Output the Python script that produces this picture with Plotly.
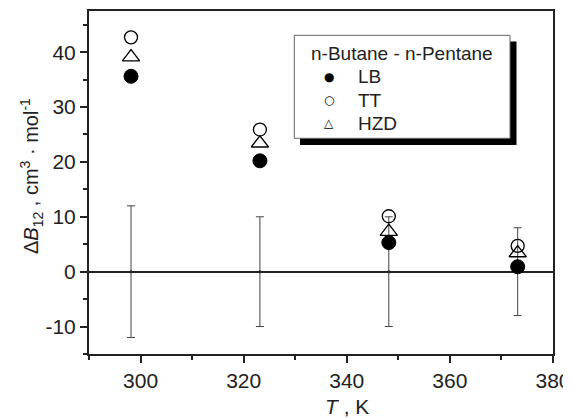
import plotly.graph_objects as go

T = [298.15, 323.15, 348.15, 373.15]
LB = [35.6, 20.2, 5.3, 0.9]
TT = [42.7, 25.9, 10.1, 4.7]
HZD = [39.1, 23.4, 7.3, 3.4]
err_center = [0, 0, 0, 0]
err = [12, 10, 10, 8]
legend_title = "n-Butane - n-Pentane"
legend_names = ["LB", "TT", "HZD"]
legend_glyphs = ["●", "○", "△"]

FONT = "Liberation Sans, Arial, sans-serif"
OFF = 8  # page body margin
L, R, TOP, BOT = 89, 553, 11, 354
PW, PH = R - L, BOT - TOP
W, H = 571 - OFF, 418 - OFF


def px(x):
    return (x - L) / PW


def py(y):
    return (BOT - y) / PH


fig = go.Figure()

fig.add_trace(go.Scatter(
    x=T, y=err_center, mode="markers",
    marker=dict(size=3, color="#222"),
    error_y=dict(type="data", array=err, visible=True, color="#444", thickness=1, width=4),
    showlegend=False, hoverinfo="skip"))

fig.add_trace(go.Scatter(x=T, y=LB, mode="markers", showlegend=False, name="LB",
    marker=dict(symbol="circle", size=14, color="black", line=dict(color="black", width=1))))
fig.add_trace(go.Scatter(x=T, y=TT, mode="markers", showlegend=False, name="TT",
    marker=dict(symbol="circle-open", size=13, color="black", line=dict(color="black", width=1.3))))
fig.add_trace(go.Scatter(x=T, y=HZD, mode="markers", showlegend=False, name="HZD",
    marker=dict(symbol="triangle-up-open", size=15, color="black", line=dict(color="black", width=1.3))))

# legend box with shadow
fig.add_shape(type="rect", xref="paper", yref="paper",
    x0=px(300), x1=px(516.5), y0=py(145), y1=py(41.5),
    fillcolor="black", line=dict(width=0))
fig.add_shape(type="rect", xref="paper", yref="paper",
    x0=px(294.3), x1=px(510), y0=py(138.3), y1=py(35.3),
    fillcolor="white", line=dict(color="#666", width=1))

ann = []
ann.append(dict(text=legend_title, x=px(402), y=py(53.5), xref="paper", yref="paper",
                showarrow=False, xanchor="center", yanchor="middle",
                font=dict(size=19, family=FONT, color="#222")))
rows = [76.7, 100.3, 123.5]
gsize = [12, 12, 12]
for name, g, yy, gs in zip(legend_names, legend_glyphs, rows, gsize):
    ann.append(dict(text=g, x=px(328.5), y=py(yy), xref="paper", yref="paper",
                    showarrow=False, xanchor="center", yanchor="middle",
                    font=dict(size=gs, family="DejaVu Sans", color="black")))
    ann.append(dict(text=name, x=px(356), y=py(yy), xref="paper", yref="paper",
                    showarrow=False, xanchor="left", yanchor="middle",
                    font=dict(size=19, family=FONT, color="#222")))

# axis titles
ann.append(dict(text="<i>T</i> , K", x=px(346.5), y=py(406), xref="paper", yref="paper",
                showarrow=False, xanchor="center", yanchor="middle",
                font=dict(size=21, family=FONT, color="#222")))
ann.append(dict(text="Δ<i>B</i><sub>12</sub> , cm<sup>3</sup> · mol<sup>-1</sup>",
                x=px(31), y=py(176), xref="paper", yref="paper", textangle=-90,
                showarrow=False, xanchor="center", yanchor="middle",
                font=dict(size=20, family=FONT, color="#222")))

fig.update_layout(
    width=W, height=H,
    margin=dict(l=L - OFF, r=571 - R, t=TOP - OFF, b=418 - BOT),
    paper_bgcolor="white", plot_bgcolor="white",
    font=dict(family=FONT, color="#222", size=21),
    showlegend=False,
    annotations=ann,
    xaxis=dict(
        range=[290, 380], tickvals=[300, 320, 340, 360, 380],
        ticks="outside", ticklen=7, tickwidth=1.5, tickcolor="#222",
        minor=dict(dtick=10, tick0=290, ticks="outside", ticklen=4, tickwidth=1.5, tickcolor="#222"),
        showline=True, linecolor="#222", linewidth=2, mirror=True,
        showgrid=False, zeroline=False, automargin=False,
        tickfont=dict(size=21),
    ),
    yaxis=dict(
        range=[-15, 47.5], tickvals=[-10, 0, 10, 20, 30, 40],
        ticktext=["-10", "0", "10", "20", "30", "40"],
        ticks="outside", ticklen=7, tickwidth=1.5, tickcolor="#222",
        minor=dict(dtick=5, tick0=-15, ticks="outside", ticklen=4, tickwidth=1.5, tickcolor="#222"),
        showline=True, linecolor="#222", linewidth=2, mirror=True,
        showgrid=False, zeroline=True, zerolinecolor="#222", zerolinewidth=2, automargin=False,
        tickfont=dict(size=21),
    ),
)

fig.write_html("out.html")
